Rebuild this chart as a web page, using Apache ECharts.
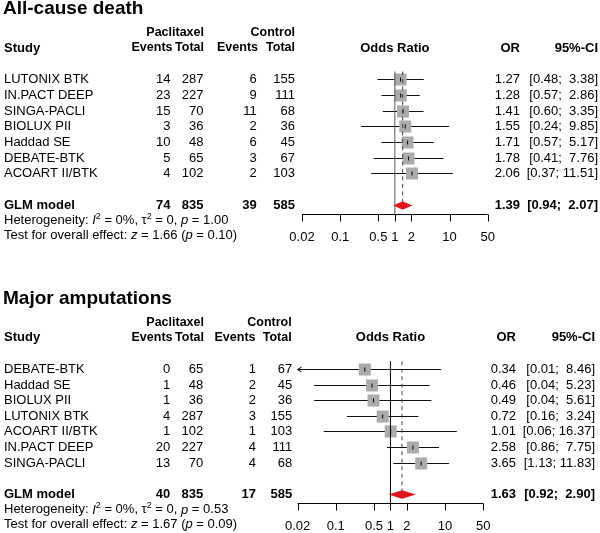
<!DOCTYPE html>
<html><head><meta charset="utf-8">
<script src="https://cdn.jsdelivr.net/npm/echarts@6/dist/echarts.min.js"></script>
<style>html,body{margin:0;padding:0;background:#fff}#c{width:600px;height:533px}</style>
</head><body><div id="c"></div>
<script>
// ---------- data: All-cause death ----------
const deathStudies   = ['LUTONIX BTK','IN.PACT DEEP','SINGA-PACLI','BIOLUX PII','Haddad SE','DEBATE-BTK','ACOART II/BTK'];
const deathPacEvents = [14, 23, 15, 3, 10, 5, 4];
const deathPacTotal  = [287, 227, 70, 36, 48, 65, 102];
const deathCtlEvents = [6, 9, 11, 2, 6, 3, 2];
const deathCtlTotal  = [155, 111, 68, 36, 45, 67, 103];
const deathOR        = [1.27, 1.28, 1.41, 1.55, 1.71, 1.78, 2.06];
const deathLower     = [0.48, 0.57, 0.60, 0.24, 0.57, 0.41, 0.37];
const deathUpper     = [3.38, 2.86, 3.35, 9.85, 5.17, 7.76, 11.51];
const deathPooled    = [1.39, 0.94, 2.07];          // OR, lower, upper
const deathTotals    = [74, 835, 39, 585];          // pac events, pac total, ctl events, ctl total
const deathHet       = ['0%', '0', '1.00'];         // I2, tau2, p
const deathTest      = ['1.66', '0.10'];            // z, p

// ---------- data: Major amputations ----------
const ampStudies   = ['DEBATE-BTK','Haddad SE','BIOLUX PII','LUTONIX BTK','ACOART II/BTK','IN.PACT DEEP','SINGA-PACLI'];
const ampPacEvents = [0, 1, 1, 4, 1, 20, 13];
const ampPacTotal  = [65, 48, 36, 287, 102, 227, 70];
const ampCtlEvents = [1, 2, 2, 3, 1, 4, 4];
const ampCtlTotal  = [67, 45, 36, 155, 103, 111, 68];
const ampOR        = [0.34, 0.46, 0.49, 0.72, 1.01, 2.58, 3.65];
const ampLower     = [0.01, 0.04, 0.04, 0.16, 0.06, 0.86, 1.13];
const ampUpper     = [8.46, 5.23, 5.61, 3.24, 16.37, 7.75, 11.83];
const ampPooled    = [1.63, 0.92, 2.90];
const ampTotals    = [40, 835, 17, 585];
const ampHet       = ['0%', '0', '0.53'];
const ampTest      = ['1.67', '0.09'];

// ---------- axis ----------
const tickValues = [0.02, 0.1, 0.5, 1, 2, 10, 50];
const tickLabels = ['0.02', '0.1', '0.5', '1', '2', '10', '50'];
const AX_MIN = 0.02, AX_MAX = 50;

// ---------- layout / style ----------
const FONT = '"Liberation Sans", Arial, Helvetica, sans-serif';
const FS = 13, FSH = 12.5;
const Y_MIN = -5, Y_MAX = 10;
const SQ = 12, SQ_COL = '#ababab', DIA_COL = '#e0141a';

const panels = [
  { title: 'All-cause death', studies: deathStudies, pe: deathPacEvents, pt: deathPacTotal, ce: deathCtlEvents, ct: deathCtlTotal,
    or: deathOR, lo: deathLower, hi: deathUpper, pooled: deathPooled, totals: deathTotals, het: deathHet, test: deathTest,
    row0: 79.3, rowH: 15.67, left: 302, right: 600 - 487.7, refCol: '#555',
    cols: { ev1: 170.5, ev1h: 172.5, tot1: 203.5, tot1h: 204, ev2: 256.7, ev2h: 258, tot2: 295, tot2h: 295, or: 520, ci: 598 } },
  { title: 'Major amputations', studies: ampStudies, pe: ampPacEvents, pt: ampPacTotal, ce: ampCtlEvents, ct: ampCtlTotal,
    or: ampOR, lo: ampLower, hi: ampUpper, pooled: ampPooled, totals: ampTotals, het: ampHet, test: ampTest,
    row0: 369, rowH: 15.6, left: 297.6, right: 600 - 483.3, refCol: '#000',
    cols: { ev1: 170.2, ev1h: 172.5, tot1: 203.3, tot1h: 204, ev2: 256, ev2h: 255.5, tot2: 292.3, tot2h: 291.7, or: 516, ci: 595 } }
];

function fmtCI(lo, hi) {
  const h = hi.toFixed(2);
  return '[' + lo.toFixed(2) + '; ' + (h.length < 5 ? ' ' : '') + h + ']';
}
function txt(x, y, text, align, bold, size) {
  const f = (bold ? 'bold ' : '') + (size || FS) + 'px ' + FONT;
  return { type: 'text', x: x, y: y, silent: true,
    style: { text: text, font: f, fill: '#000', textAlign: align, align: align, textVerticalAlign: 'middle', verticalAlign: 'middle' } };
}
function richTxt(x, y, text) {
  const base = { fontFamily: FONT, fontSize: FS, fill: '#000', color: '#000', lineHeight: 17 };
  return { type: 'text', x: x, y: y, silent: true,
    style: { text: text, font: FS + 'px ' + FONT, fill: '#000', textAlign: 'left', align: 'left', textVerticalAlign: 'middle', verticalAlign: 'middle',
      rich: {
        n: base,
        i: Object.assign({}, base, { fontStyle: 'italic' }),
        s: { fontFamily: FONT, fontSize: 9, fill: '#000', color: '#000', verticalAlign: 'top', lineHeight: 10 }
      } } };
}
function hLine(x1, x2, y, color, dash) {
  return { type: 'line', silent: true, shape: { x1: x1, y1: y, x2: x2, y2: y }, style: { stroke: color || '#000', lineWidth: 1, lineDash: dash || null } };
}
function vLine(x, y1, y2, color, dash) {
  return { type: 'line', silent: true, shape: { x1: x, y1: y1, x2: x, y2: y2 }, style: { stroke: color || '#000', lineWidth: 1, lineDash: dash || null } };
}

function studyRender(p) {
  return function (params, api) {
    const i = params.dataIndex;
    const or = api.value(0), row = api.value(1), lo = api.value(2), hi = api.value(3);
    const c = api.coord([or, row]);
    const y = Math.round(c[1]) + 0.5;
    const xl = api.coord([Math.max(lo, AX_MIN), row])[0];
    const xh = api.coord([Math.min(hi, AX_MAX), row])[0];
    const ch = [];
    ch.push(hLine(xl, xh, y, '#111'));
    if (lo < AX_MIN) {
      ch.push({ type: 'polyline', silent: true, shape: { points: [[xl + 4, y - 2.5], [xl, y], [xl + 4, y + 2.5]] }, style: { stroke: '#000', lineWidth: 1, fill: null } });
    }
    ch.push({ type: 'rect', silent: true, shape: { x: c[0] - SQ / 2, y: y - SQ / 2, width: SQ, height: SQ }, style: { fill: SQ_COL } });
    ch.push(vLine(c[0], y - 2, y + 2));
    const ty = c[1] + 0.5;
    const k = p.cols;
    ch.push(txt(4, ty, p.studies[i], 'left'));
    ch.push(txt(k.ev1, ty, String(p.pe[i]), 'right'));
    ch.push(txt(k.tot1, ty, String(p.pt[i]), 'right'));
    ch.push(txt(k.ev2, ty, String(p.ce[i]), 'right'));
    ch.push(txt(k.tot2, ty, String(p.ct[i]), 'right'));
    ch.push(txt(k.or, ty, or.toFixed(2), 'right'));
    ch.push(txt(k.ci, ty, fmtCI(lo, hi), 'right'));
    return { type: 'group', children: ch };
  };
}

function decorRender(p) {
  return function (params, api) {
    const k = p.cols;
    const Y = r => api.coord([1, r])[1];
    const X = v => api.coord([v, 0])[0];
    const ch = [];
    // titles and headers
    ch.push(txt(3, Y(-4.5), p.title, 'left', true, 19));
    ch.push(txt(k.tot1h, Y(-3), 'Paclitaxel', 'right', true, FSH));
    ch.push(txt(k.tot2h, Y(-3), 'Control', 'right', true, FSH));
    const hy = Y(-2);
    ch.push(txt(4, hy, 'Study', 'left', true));
    ch.push(txt(k.ev1h, hy, 'Events', 'right', true, FSH));
    ch.push(txt(k.tot1h, hy, 'Total', 'right', true, FSH));
    ch.push(txt(k.ev2h, hy, 'Events', 'right', true, FSH));
    ch.push(txt(k.tot2h, hy, 'Total', 'right', true, FSH));
    ch.push(txt(X(1), hy, 'Odds Ratio', 'center', true));
    ch.push(txt(k.or, hy, 'OR', 'right', true));
    ch.push(txt(k.ci, hy, '95%-CI', 'right', true));
    // reference lines
    const axY = Math.round(Y(8.6)) + 0.5;
    const pr = p.pooled;
    const gy = Math.round(Y(8)) + 0.5;
    ch.push(vLine(X(1), Y(-0.5), axY, p.refCol));
    ch.push(vLine(X(pr[0]), Y(-0.5), gy - 4, '#444', [4, 3.5]));
    // diamond
    ch.push({ type: 'polygon', silent: true, shape: { points: [[X(pr[1]), gy], [X(pr[0]), gy - 4.2], [X(pr[2]), gy], [X(pr[0]), gy + 4.2]] }, style: { fill: DIA_COL } });
    // pooled row text
    const t = p.totals;
    const ty = Y(8) + 0.5;
    ch.push(txt(4, ty, 'GLM model', 'left', true));
    ch.push(txt(k.ev1, ty, String(t[0]), 'right', true));
    ch.push(txt(k.tot1, ty, String(t[1]), 'right', true));
    ch.push(txt(k.ev2, ty, String(t[2]), 'right', true));
    ch.push(txt(k.tot2, ty, String(t[3]), 'right', true));
    ch.push(txt(k.or, ty, pr[0].toFixed(2), 'right', true));
    ch.push(txt(k.ci, ty, fmtCI(pr[1], pr[2]), 'right', true));
    // heterogeneity and test
    ch.push(richTxt(4, Y(9) + 0.5, '{n|Heterogeneity: }{i|I}{s|2}{n| = ' + p.het[0] + ', τ}{s|2}{n| = ' + p.het[1] + ', }{i|p}{n| = ' + p.het[2] + '}'));
    ch.push(richTxt(4, Y(10) - 0.5, '{n|Test for overall effect: }{i|z}{n| = ' + p.test[0] + ' (}{i|p}{n| = ' + p.test[1] + ')}'));
    // x axis
    ch.push(hLine(X(AX_MIN), X(AX_MAX), axY));
    tickValues.forEach((v, j) => {
      const x = Math.round(X(v)) + 0.5;
      ch.push(vLine(x, axY, axY + 7));
      ch.push(txt(X(v), Y(10.08), tickLabels[j], 'center'));
    });
    return { type: 'group', children: ch };
  };
}

const grids = [], xAxes = [], yAxes = [], series = [];
panels.forEach((p, gi) => {
  const top = p.row0 - (0 - Y_MIN) * p.rowH;
  grids.push({ left: p.left, right: p.right, top: top, height: (Y_MAX - Y_MIN) * p.rowH, containLabel: false });
  xAxes.push({ type: 'log', logBase: 10, min: AX_MIN, max: AX_MAX, gridIndex: gi, show: false });
  yAxes.push({ type: 'value', min: Y_MIN, max: Y_MAX, inverse: true, gridIndex: gi, show: false });
  const data = p.or.map((v, i) => [v, i, p.lo[i], p.hi[i]]);
  series.push({ type: 'custom', coordinateSystem: 'cartesian2d', xAxisIndex: gi, yAxisIndex: gi, clip: false,
    encode: { x: 0, y: 1 }, data: data, renderItem: studyRender(p), silent: true });
  series.push({ type: 'custom', coordinateSystem: 'cartesian2d', xAxisIndex: gi, yAxisIndex: gi, clip: false,
    encode: { x: 0, y: 1 }, data: [[1, 0]], renderItem: decorRender(p), silent: true });
});

const chart = echarts.init(document.getElementById('c'), null, { renderer: 'canvas' });
chart.setOption({ animation: false, backgroundColor: '#fff', grid: grids, xAxis: xAxes, yAxis: yAxes, series: series });
</script></body></html>
